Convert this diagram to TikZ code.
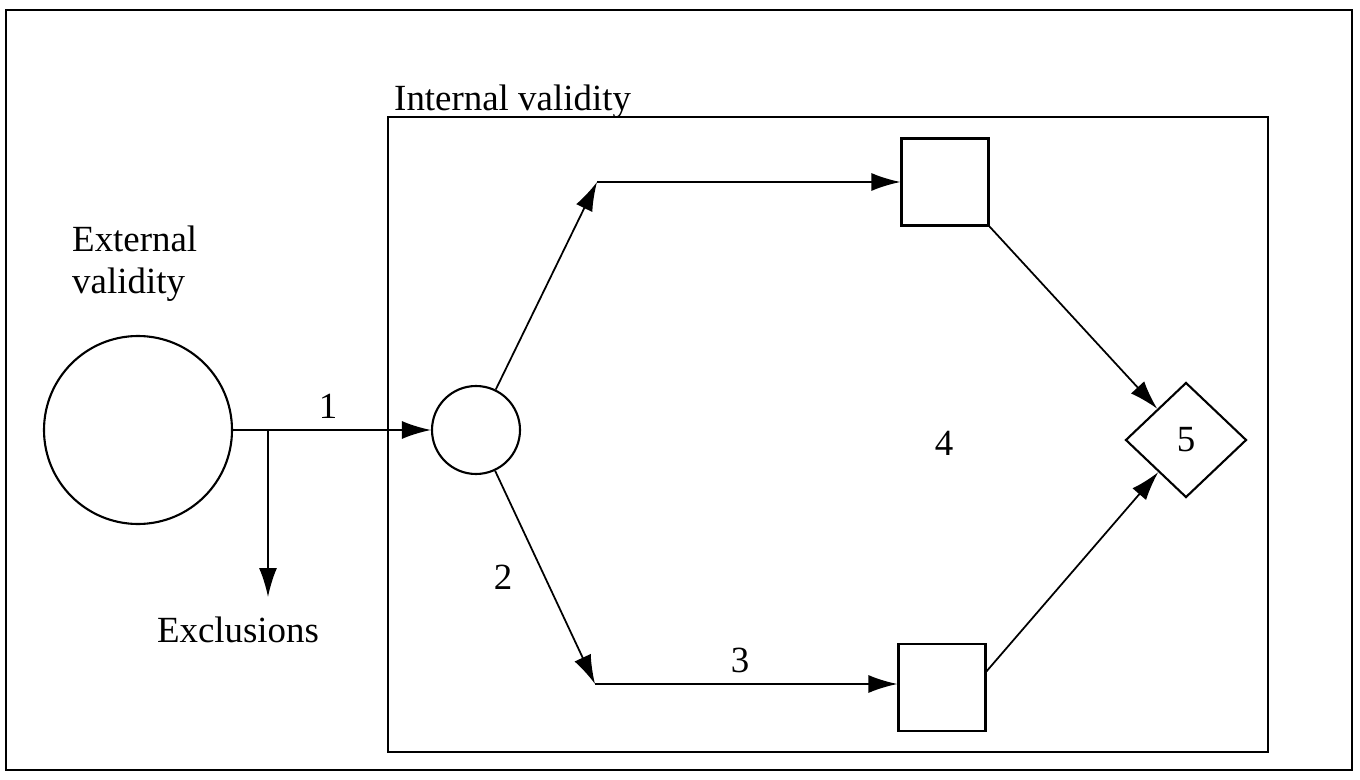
\documentclass[tikz,border=0pt]{standalone}
\usepackage{fontspec}
\setmainfont{Liberation Serif}
\usepackage{tikz}
\usetikzlibrary{arrows.meta,positioning,shapes.geometric,calc}

\begin{document}
\begin{tikzpicture}[
    x=1cm,y=1cm,
    font=\fontsize{10.5}{12.1}\selectfont,
    frame/.style={draw, line width=0.7pt, inner sep=0pt},
    pool/.style={draw, circle, line width=0.6pt, inner sep=0pt},
    arm/.style={draw, rectangle, line width=0.6pt, minimum size=0.87cm, inner sep=0pt},
    outcome/.style={draw, diamond, line width=0.6pt, minimum width=1.21cm,
      minimum height=1.15cm, inner sep=0pt},
    flow/.style={-{Latex[length=2.9mm,width=1.8mm]}, line width=0.5pt},
    tag/.style={inner sep=1pt}
  ]
    \useasboundingbox (0,0) rectangle (13.6,7.79);
    \node[frame, minimum width=13.46cm, minimum height=7.60cm] (page) at (6.79,3.89) {};
    \node[frame, line width=0.65pt, minimum width=8.80cm, minimum height=6.35cm] (iv) at (8.28,3.445) {};
    \node[tag, anchor=base west] (ivlab) at (3.90,6.68) {Internal validity};
    \node[tag, anchor=base west, align=left] (evlab) at (0.68,4.85) {External\\validity};

    \node[pool, minimum size=1.88cm] (ext) at (1.38,3.49) {};
    \node[pool, minimum size=0.88cm] (sml) at (4.76,3.49) {};
    \node[arm] (usq) at (9.45,5.97) {};
    \node[arm] (lsq) at (9.42,0.915) {};
    \node[outcome] (dia) at (11.86,3.39) {5};
    \node[tag, anchor=base] (excl) at (2.38,1.37) {Exclusions};

    \coordinate (br) at (2.68,3.49);
    \coordinate (up) at (5.97,5.97);
    \coordinate (lo) at (5.95,0.95);

    \draw[flow] (ext) -- node[tag, pos=0.48, above=2pt] (n1) {1} (sml);
    \draw[flow] (br) -- (br |- 0,1.82);
    \draw[flow] (sml) -- (up);
    \draw[flow] (up) -- (usq);
    \draw[flow] (sml) -- (lo);
    \draw[flow] (lo) -- (lo -| lsq.west);
    \draw[flow] (usq.south east) -- (dia);
    \draw[flow] (lsq.20) -- (dia);

    \node[tag] (n2) at (5.03,2.02) {2};
    \node[tag] (n3) at (7.40,1.19) {3};
    \node[tag] (n4) at (9.44,3.36) {4};
  \end{tikzpicture}
\end{document}
